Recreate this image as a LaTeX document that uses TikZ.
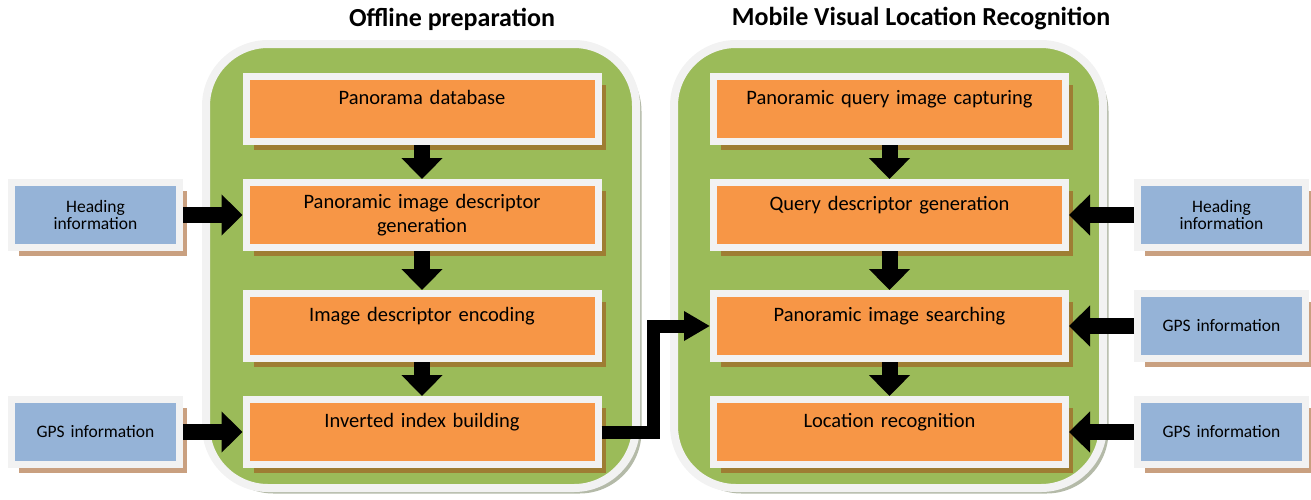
\documentclass[tikz,border=0pt]{standalone}
\usepackage{fontspec}
\setmainfont{Carlito}
\usetikzlibrary{arrows.meta,shadows,positioning}
\definecolor{PanelGreen}{HTML}{9BBB59}
\definecolor{StepOrange}{HTML}{F79646}
\definecolor{InfoBlue}{HTML}{95B3D7}
\definecolor{FrameWhite}{HTML}{F2F2F2}
\definecolor{StepShadow}{HTML}{9E7D33}
\definecolor{InfoShadow}{HTML}{C9A080}
\definecolor{PanelShadow}{HTML}{B4BAA8}

\tikzset{
  panel/.style={fill=PanelGreen, draw=FrameWhite, line width=8pt, rounded corners=62pt,
    drop shadow={shadow xshift=5.5pt, shadow yshift=-5.5pt, fill=PanelShadow, opacity=1}},
  stepbox/.style={fill=StepOrange, draw=FrameWhite, line width=7pt,
    minimum width=352pt, minimum height=65pt, text width=330pt, align=center,
    font=\fontsize{20.5}{24}\selectfont,
    drop shadow={shadow xshift=7.5pt, shadow yshift=-8pt, fill=StepShadow, opacity=1}},
  infobox/.style={fill=InfoBlue, draw=FrameWhite, line width=7pt,
    minimum width=168pt, minimum height=65pt, text width=155pt, align=center,
    font=\fontsize{17.5}{15}\selectfont,
    drop shadow={shadow xshift=7pt, shadow yshift=-8pt, fill=InfoShadow, opacity=1}},
  flowarrow/.style={line width=16pt, -{Triangle[length=21pt,width=40pt]}},
  linkarrow/.style={line width=13pt, line join=miter, -{Triangle[length=26pt,width=28pt]}},
  title/.style={font=\bfseries\fontsize{26}{30}\selectfont}
}

\begin{document}
\begin{tikzpicture}[x=1pt, y=-1pt]

    \useasboundingbox (0,0) rectangle (1311,499);

    % Columns and rows
    \def\colOne{422}
    \def\colTwo{889.5}
    \def\rowA{109}
    \def\rowB{215}
    \def\rowC{326}
    \def\rowD{432}

    % ---------- Panels
    \draw[panel] (206,44) rectangle (636,488);
    \draw[panel] (674,44) rectangle (1103,488);

    \node[title] (offTitle) at (452,19) {Offline preparation};
    \node[title] (onTitle) at (921,19) {Mobile Visual Location Recognition};

    % ---------- Offline preparation
    \node[stepbox] (panoDb) at (\colOne,\rowA) {Panorama database\\~};
    \node[stepbox] (descGen) at (\colOne,\rowB) {Panoramic image descriptor\\generation};
    \node[stepbox] (descEnc) at (\colOne,\rowC) {Image descriptor encoding\\~};
    \node[stepbox] (indexBuild) at (\colOne,\rowD) {Inverted index building\\~};

    \node[infobox] (headLeft) at (95.5,\rowB) {Heading\\information};
    \node[infobox] (gpsLeft) at (95.5,\rowD) {GPS information};

    \draw[flowarrow] (panoDb) -- (descGen);
    \draw[flowarrow] (descGen) -- (descEnc);
    \draw[flowarrow] (descEnc) -- (indexBuild);
    \draw[flowarrow] (headLeft) -- (descGen);
    \draw[flowarrow] (gpsLeft) -- (indexBuild);

    % ---------- Mobile visual location recognition
    \node[stepbox] (queryCap) at (\colTwo,\rowA) {Panoramic query image capturing\\~};
    \node[stepbox] (queryDesc) at (\colTwo,\rowB) {Query descriptor generation\\~};
    \node[stepbox] (panoSearch) at (\colTwo,\rowC) {Panoramic image searching\\~};
    \node[stepbox] (locRec) at (\colTwo,\rowD) {Location recognition\\~};

    \node[infobox] (headRight) at (1221.5,\rowB) {Heading\\information};
    \node[infobox] (gpsRightA) at (1221.5,\rowC) {GPS information};
    \node[infobox] (gpsRightB) at (1221.5,\rowD) {GPS information};

    \draw[flowarrow] (queryCap) -- (queryDesc);
    \draw[flowarrow] (queryDesc) -- (panoSearch);
    \draw[flowarrow] (panoSearch) -- (locRec);
    \draw[flowarrow] (headRight) -- (queryDesc);
    \draw[flowarrow] (gpsRightA) -- (panoSearch);
    \draw[flowarrow] (gpsRightB) -- (locRec);

    % Index handed over to the search
    \draw[linkarrow] (indexBuild.east) -- ++(52,0) |- (panoSearch.west);

\end{tikzpicture}
\end{document}
